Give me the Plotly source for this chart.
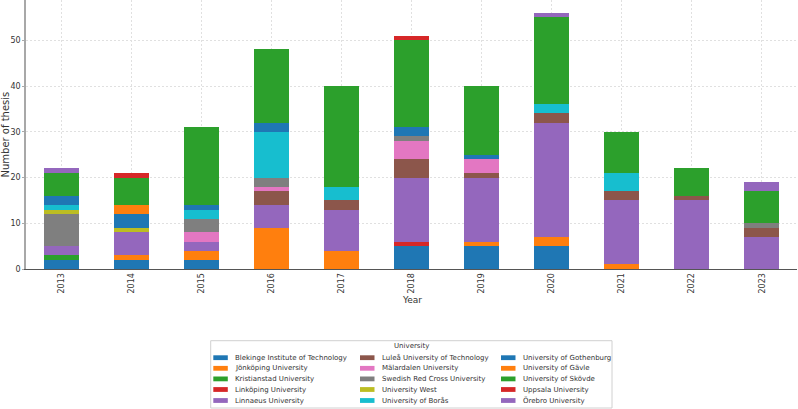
import plotly.graph_objects as go

# ---------------- data ----------------
years = ["2013", "2014", "2015", "2016", "2017", "2018", "2019", "2020", "2021", "2022", "2023"]

universities = [
    "Blekinge Institute of Technology", "Jönköping University", "Kristianstad University",
    "Linköping University", "Linnaeus University", "Luleå University of Technology",
    "Mälardalen University", "Swedish Red Cross University", "University West",
    "University of Borås", "University of Gothenburg", "University of Gävle",
    "University of Skövde", "Uppsala University", "Örebro University",
]

blekinge     = [2, 2, 2, 0, 0, 5, 5, 5, 0, 0, 0]
jonkoping    = [0, 1, 2, 9, 4, 0, 1, 2, 1, 0, 0]
kristianstad = [1, 0, 0, 0, 0, 0, 0, 0, 0, 0, 0]
linkoping    = [0, 0, 0, 0, 0, 1, 0, 0, 0, 0, 0]
linnaeus     = [2, 5, 2, 5, 9, 14, 14, 25, 14, 15, 7]
lulea        = [0, 0, 0, 3, 2, 4, 1, 2, 2, 1, 2]
malardalen   = [0, 0, 2, 1, 0, 4, 3, 0, 0, 0, 0]
red_cross    = [7, 0, 3, 2, 0, 1, 0, 0, 0, 0, 1]
west         = [1, 1, 0, 0, 0, 0, 0, 0, 0, 0, 0]
boras        = [1, 0, 2, 10, 3, 0, 0, 2, 4, 0, 0]
gothenburg   = [2, 3, 1, 2, 0, 2, 1, 0, 0, 0, 0]
gavle        = [0, 2, 0, 0, 0, 0, 0, 0, 0, 0, 0]
skovde       = [5, 6, 17, 16, 22, 19, 15, 19, 9, 6, 7]
uppsala      = [0, 1, 0, 0, 0, 1, 0, 0, 0, 0, 0]
orebro       = [1, 0, 0, 0, 0, 0, 0, 1, 0, 0, 2]

series = [blekinge, jonkoping, kristianstad, linkoping, linnaeus, lulea, malardalen,
          red_cross, west, boras, gothenburg, gavle, skovde, uppsala, orebro]

tab10 = ["#1f77b4", "#ff7f0e", "#2ca02c", "#d62728", "#9467bd",
         "#8c564b", "#e377c2", "#7f7f7f", "#bcbd22", "#17becf"]
colors = [tab10[i % 10] for i in range(len(universities))]

# ---------------- figure ----------------
W, H = 798, 409
ML, MR, MT, MB = 26, 1, 0, 140
PW, PH = W - ML - MR, H - MT - MB

def px_x(px):
    return (px - ML) / PW

def px_y(py):
    return (H - MB - py) / PH

FONT = "DejaVu Sans"
TXT = "#333333"

fig = go.Figure()
for name, vals, col in zip(universities, series, colors):
    fig.add_trace(go.Bar(
        x=years, y=vals, name=name, width=0.5,
        marker=dict(color=col, line=dict(width=0)),
        showlegend=False,
    ))

fig.update_layout(
    width=W, height=H,
    margin=dict(l=ML, r=MR, t=MT, b=MB),
    barmode="stack",
    plot_bgcolor="white", paper_bgcolor="white",
    font=dict(family=FONT, color=TXT, size=8),
    xaxis=dict(
        type="category", range=[-0.5, 10.5],
        tickangle=-90, tickfont=dict(size=8, family=FONT, color=TXT),
        showgrid=True, gridcolor="#e0e0e0", gridwidth=0.7, griddash="2px,2px",
        showline=True, linecolor="#555555", linewidth=1,
        ticks="", ticklen=0,
    ),
    yaxis=dict(
        range=[0, 58.8], tickvals=[0, 10, 20, 30, 40, 50],
        tickfont=dict(size=8, family=FONT, color=TXT),
        showgrid=True, gridcolor="#e0e0e0", gridwidth=0.7, griddash="2px,2px",
        showline=True, linecolor="#a8a8a8", linewidth=1.5,
        zeroline=False, ticks="outside", ticklen=2, tickcolor="#a8a8a8",
    ),
)

annotations = [
    dict(text="Year", x=px_x(411.5), y=px_y(300), xref="paper", yref="paper",
         showarrow=False, xanchor="center", yanchor="middle",
         font=dict(size=9, family=FONT, color=TXT)),
    dict(text="Number of thesis", x=px_x(5), y=px_y(134.5), xref="paper", yref="paper",
         showarrow=False, xanchor="center", yanchor="middle", textangle=-90,
         font=dict(size=10, family=FONT, color=TXT)),
    dict(text="University", x=px_x(411.5), y=px_y(346.5), xref="paper", yref="paper",
         showarrow=False, xanchor="center", yanchor="middle",
         font=dict(size=7, family=FONT, color=TXT)),
]

shapes = [
    dict(type="rect", xref="paper", yref="paper",
         x0=px_x(210.7), x1=px_x(612), y0=px_y(340.7), y1=px_y(408),
         line=dict(color="#d0d0d0", width=1), fillcolor="white", layer="above"),
]

# legend entries: 3 columns x 5 rows, column-major
col_sw = [213.3, 360, 501]
col_tx = [233.3, 380, 521]
row_y = [357.7, 368.3, 378.9, 389.5, 400.5]
for i, (name, col) in enumerate(zip(universities, colors)):
    c, r = divmod(i, 5)
    yy = row_y[r]
    shapes.append(dict(type="rect", xref="paper", yref="paper",
                       x0=px_x(col_sw[c]), x1=px_x(col_sw[c] + 14.5),
                       y0=px_y(yy - 2.4), y1=px_y(yy + 2.4),
                       line=dict(width=0), fillcolor=col, layer="above"))
    annotations.append(dict(text=name, x=px_x(col_tx[c]), y=px_y(yy),
                            xref="paper", yref="paper", showarrow=False,
                            xanchor="left", yanchor="middle",
                            font=dict(size=7, family=FONT, color=TXT)))

fig.update_layout(annotations=annotations, shapes=shapes)

fig.write_html("out.html")
